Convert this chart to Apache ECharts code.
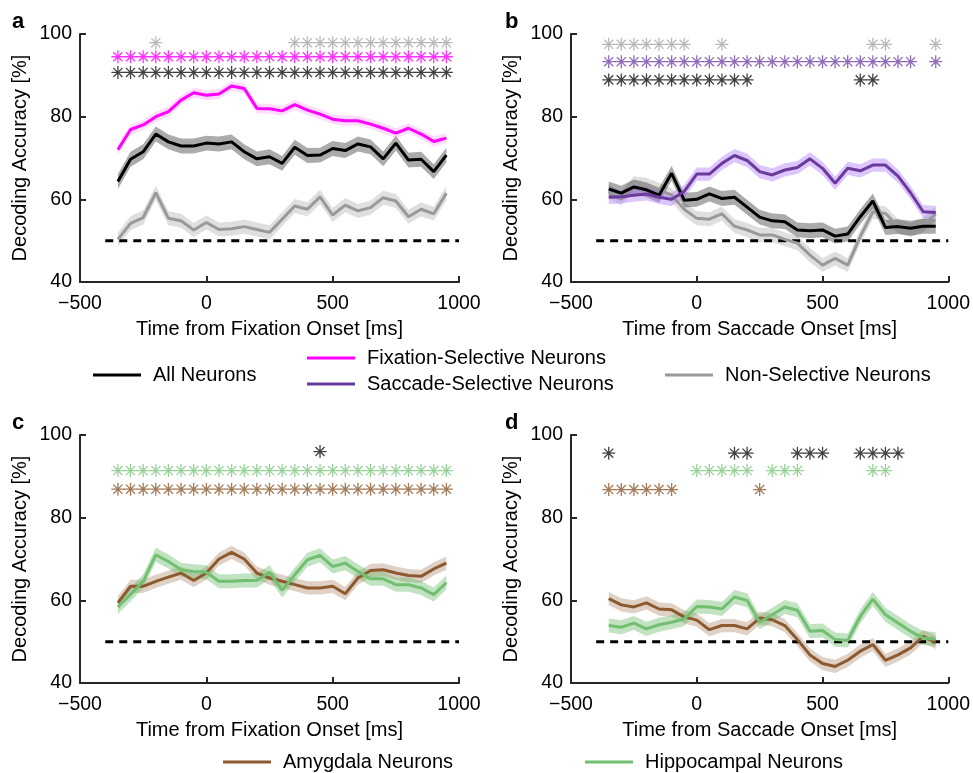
<!DOCTYPE html>
<html><head><meta charset="utf-8">
<script src="https://cdn.jsdelivr.net/npm/echarts@6/dist/echarts.min.js"></script>
<style>html,body{margin:0;padding:0;background:#fff}#c{width:973px;height:773px}</style>
</head><body><div id="c"></div><script>
// ---------- data ----------
const timeMs = [-350,-300,-250,-200,-150,-100,-50,0,50,100,150,200,250,300,350,400,450,500,550,600,650,700,750,800,850,900,950];
const xRange = [-500, 1000, 500];
const yRange = [40, 100, 20];
const chanceLevel = 50;
const chanceX = [-400, 1000];

// panel a (fixation onset)
const aAll = [64.3,69.7,71.5,75.8,73.9,72.9,72.9,73.6,73.4,73.9,71.5,69.8,70.3,68.7,72.6,70.6,70.7,72.3,71.8,73.4,72.7,69.8,73.6,69.5,69.7,66.7,70.7];
const aFix = [72.0,76.9,78.0,80.0,81.2,84.0,85.8,85.2,85.5,87.4,86.8,82.0,81.9,81.4,82.9,81.6,80.6,79.4,79.0,79.0,78.2,77.2,76.0,77.2,75.8,74.0,74.8];
const aNon = [50.3,54.2,55.6,61.6,55.4,54.8,52.6,54.4,52.7,52.9,53.4,52.7,52.0,55.2,58.4,57.6,60.6,56.2,58.6,57.2,58.0,60.4,59.6,55.8,57.6,56.5,61.5];
// panel b (saccade onset)
const bAll = [62.5,61.5,63.0,62.3,61.0,66.3,59.8,60.0,61.3,60.2,60.5,58.1,55.7,54.8,54.6,52.6,52.4,52.6,51.1,51.6,55.8,59.6,53.2,53.4,53.0,53.5,53.5];
const bSac = [60.5,60.6,61.0,61.3,60.5,60.0,61.9,66.1,66.1,68.7,70.6,69.4,66.7,65.9,67.1,67.7,69.8,67.5,63.9,67.5,66.9,68.3,68.3,65.6,61.6,57.0,56.8];
const bNon = [61.9,60.2,63.9,63.5,62.3,61.0,57.6,55.4,55.2,56.5,53.5,52.6,51.4,51.4,50.3,49.4,46.5,44.1,45.7,44.1,51.0,57.0,56.6,53.5,52.6,53.8,56.5];
// panel c (fixation onset, by region)
const cAmy = [59.4,63.4,63.4,64.6,65.6,66.6,64.8,66.6,70.0,71.6,70.0,66.6,65.4,64.6,63.8,63.0,63.0,63.4,61.6,65.4,67.2,67.4,66.6,66.0,65.8,67.6,69.0];
const cHip = [58.4,61.4,64.6,71.0,69.4,67.4,67.0,66.8,64.6,64.6,64.8,64.8,66.8,62.4,66.2,69.8,70.9,68.2,69.0,67.0,65.2,65.2,63.8,63.8,63.0,61.4,64.3];
// panel d (saccade onset, by region)
const dAmy = [60.4,58.9,58.4,59.4,57.9,57.7,56.0,55.2,52.9,53.9,53.9,53.1,55.7,55.3,53.9,50.5,46.8,44.7,44.0,45.5,47.7,49.3,45.5,46.8,48.5,51.3,49.8];
const dHip = [53.9,53.5,54.5,53.1,54.1,54.7,55.5,58.5,58.4,57.9,60.8,60.0,54.7,56.5,58.4,57.6,52.5,52.7,50.5,50.3,56.1,60.3,56.5,54.5,52.5,50.9,50.6];

// shaded error (half-width, % accuracy)
const semAll = 1.8, semFix = 1.2, semNon = 1.7, semSac = 1.6, semAmy = 1.6, semHip = 1.7;

// significance markers (time points)
const aStarNon = [-200,350,400,450,500,550,600,650,700,750,800,850,900,950];
const aStarFix = timeMs;
const aStarAll = timeMs;
const bStarNon = [-350,-300,-250,-200,-150,-100,-50,100,700,750,950];
const bStarSac = [-350,-300,-250,-200,-150,-100,-50,0,50,100,150,200,250,300,350,400,450,500,550,600,650,700,750,800,850,950];
const bStarAll = [-350,-300,-250,-200,-150,-100,-50,0,50,100,150,200,650,700];
const cStarAll = [450];
const cStarHip = timeMs;
const cStarAmy = timeMs;
const dStarAll = [-350,150,200,400,450,500,650,700,750,800];
const dStarHip = [0,50,100,150,200,300,350,400,700,750];
const dStarAmy = [-350,-300,-250,-200,-150,-100,250];
// marker rows (y level, %)
const aStarLevels = {non: 97.9, fix: 94.5, all: 90.7};
const bStarLevels = {non: 97.5, sac: 93.3, all: 88.9};
const cStarLevels = {all: 96.0, hip: 91.4, amy: 86.9};
const dStarLevels = {all: 95.6, hip: 91.4, amy: 86.8};

// ---------- styling ----------
const FONT = "'Liberation Sans', Arial, Helvetica, sans-serif";
const C = {
  all: '#000000', allBand: 'rgba(0,0,0,0.33)', allStar: '#111111',
  fix: '#ff00ff', fixBand: 'rgba(255,0,255,0.14)', fixStar: '#ff00ff',
  non: '#999999', nonBand: 'rgba(140,140,140,0.28)', nonStar: '#a8a8a8',
  sac: '#6a3a9c', sacBand: 'rgba(170,110,250,0.4)', sacStar: '#7446a6',
  amy: '#8c5a2e', amyBand: 'rgba(140,90,46,0.28)', amyStar: '#8c5a2e',
  hip: '#72bf72', hipBand: 'rgba(100,185,100,0.4)', hipStar: '#80c880'
};
const STAR = 'path://M6,0L6,12M0,6L12,6M1.8,1.8L10.2,10.2M1.8,10.2L10.2,1.8';

const grids = [
  {left: 80, top: 34, width: 379, height: 248},
  {left: 571, top: 34, width: 379, height: 248},
  {left: 80, top: 435, width: 379, height: 248},
  {left: 571, top: 435, width: 379, height: 248}
];
const xNames = ['Time from Fixation Onset [ms]','Time from Saccade Onset [ms]','Time from Fixation Onset [ms]','Time from Saccade Onset [ms]'];

const axisColor = '#262626';
const xAxes = grids.map((g,i)=>({
  type:'value', gridIndex:i, min:xRange[0], max:xRange[1], interval:xRange[2],
  name:xNames[i], nameLocation:'middle', nameGap:37,
  nameTextStyle:{fontFamily:FONT, fontSize:20, color:'#000'},
  axisLine:{onZero:false, lineStyle:{color:axisColor, width:2}},
  axisTick:{inside:true, length:6, lineStyle:{color:axisColor, width:2}},
  axisLabel:{margin:12, fontFamily:FONT, fontSize:19.5, color:'#000',
    formatter:v=> v<0 ? '\u2212'+Math.abs(v) : String(v)},
  splitLine:{show:false}
}));
const yAxes = grids.map((g,i)=>({
  type:'value', gridIndex:i, min:yRange[0], max:yRange[1], interval:yRange[2],
  name:'Decoding Accuracy [%]', nameLocation:'middle', nameGap:50, nameRotate:90,
  nameTextStyle:{fontFamily:FONT, fontSize:20, color:'#000'},
  axisLine:{onZero:false, lineStyle:{color:axisColor, width:2}},
  axisTick:{inside:true, length:6, lineStyle:{color:axisColor, width:2}},
  axisLabel:{margin:8, fontFamily:FONT, fontSize:19.5, color:'#000'},
  splitLine:{show:false}
}));

const series = [];
function addLine(gi, name, vals, sem, color, band){
  series.push({type:'custom', xAxisIndex:gi, yAxisIndex:gi, silent:true, z:1,
    data: timeMs.map((t,k)=>[t, vals[k]-sem, vals[k]+sem]),
    encode:{x:0, y:[1,2]},
    renderItem:(params, api)=>{
      if (params.dataIndex !== 0) return null;
      const pts = [];
      for (let k=0;k<timeMs.length;k++) pts.push(api.coord([timeMs[k], vals[k]+sem]));
      for (let k=timeMs.length-1;k>=0;k--) pts.push(api.coord([timeMs[k], vals[k]-sem]));
      return {type:'polygon', shape:{points:pts}, style:{fill:band}};
    }
  });
  series.push({type:'line', name:name, xAxisIndex:gi, yAxisIndex:gi,
    data: timeMs.map((t,k)=>[t, vals[k]]), symbol:'none', showSymbol:false,
    itemStyle:{color:color}, lineStyle:{color:color, width:3}, z:3});
}
function addStars(gi, times, level, color){
  series.push({type:'scatter', xAxisIndex:gi, yAxisIndex:gi, silent:true,
    data: times.map(t=>[t, level]), symbol:STAR, symbolSize:13,
    itemStyle:{color:'transparent', borderColor:color, borderWidth:1.3}, z:4});
}
function addChance(gi){
  series.push({type:'line', xAxisIndex:gi, yAxisIndex:gi, silent:true,
    data: chanceX.map(x=>[x, chanceLevel]), symbol:'none',
    lineStyle:{color:'#000', width:3, type:[8,6]}, z:2});
}

// panel a
addChance(0);
addLine(0,'Non-Selective Neurons',aNon,semNon,C.non,C.nonBand);
addLine(0,'All Neurons',aAll,semAll,C.all,C.allBand);
addLine(0,'Fixation-Selective Neurons',aFix,semFix,C.fix,C.fixBand);
addStars(0,aStarNon,aStarLevels.non,C.nonStar);
addStars(0,aStarFix,aStarLevels.fix,C.fixStar);
addStars(0,aStarAll,aStarLevels.all,C.allStar);
// panel b
addChance(1);
addLine(1,'Non-Selective Neurons',bNon,semNon,C.non,C.nonBand);
addLine(1,'All Neurons',bAll,semAll,C.all,C.allBand);
addLine(1,'Saccade-Selective Neurons',bSac,semSac,C.sac,C.sacBand);
addStars(1,bStarNon,bStarLevels.non,C.nonStar);
addStars(1,bStarSac,bStarLevels.sac,C.sacStar);
addStars(1,bStarAll,bStarLevels.all,C.allStar);
// panel c
addChance(2);
addLine(2,'Amygdala Neurons',cAmy,semAmy,C.amy,C.amyBand);
addLine(2,'Hippocampal Neurons',cHip,semHip,C.hip,C.hipBand);
addStars(2,cStarAll,cStarLevels.all,C.allStar);
addStars(2,cStarHip,cStarLevels.hip,C.hipStar);
addStars(2,cStarAmy,cStarLevels.amy,C.amyStar);
// panel d
addChance(3);
addLine(3,'Amygdala Neurons',dAmy,semAmy,C.amy,C.amyBand);
addLine(3,'Hippocampal Neurons',dHip,semHip,C.hip,C.hipBand);
addStars(3,dStarAll,dStarLevels.all,C.allStar);
addStars(3,dStarHip,dStarLevels.hip,C.hipStar);
addStars(3,dStarAmy,dStarLevels.amy,C.amyStar);

function legendAt(name, left, cy){
  return {data:[name], left:left, top:cy-10, icon:'rect', itemWidth:48, itemHeight:3,
    padding:0, selectedMode:false,
    textStyle:{fontFamily:FONT, fontSize:20, color:'#000', lineHeight:20, padding:[0,0,0,7]}};
}
const legends = [
  legendAt('All Neurons', 93, 375),
  legendAt('Fixation-Selective Neurons', 307, 358),
  legendAt('Saccade-Selective Neurons', 307, 384),
  legendAt('Non-Selective Neurons', 665, 375),
  legendAt('Amygdala Neurons', 223, 762),
  legendAt('Hippocampal Neurons', 585, 762)
];

const titles = [['a',12,11],['b',505,11],['c',12,412],['d',505,412]].map(([t,l,tp])=>({
  text:t, left:l, top:tp, padding:0,
  textStyle:{fontFamily:FONT, fontSize:22, fontWeight:'bold', color:'#000'}
}));

const chart = echarts.init(document.getElementById('c'), null, {renderer:'canvas'});
chart.setOption({
  animation:false,
  backgroundColor:'#fff',
  title:titles,
  legend:legends,
  grid:grids,
  xAxis:xAxes,
  yAxis:yAxes,
  series:series
});
</script></body></html>
